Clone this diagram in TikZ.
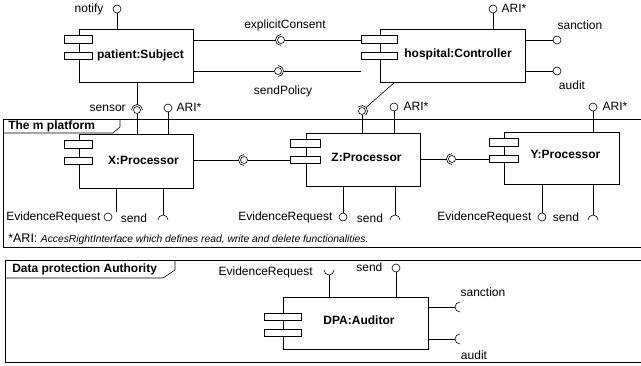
\documentclass[tikz,border=0pt]{standalone}
\usepackage{fontspec}
\setmainfont{Liberation Sans}
\tikzset{
  comp/.style={draw, rectangle, inner sep=0pt},
  icon/.style={draw, rectangle, fill=white, inner sep=0pt, minimum height=7.5pt},
  ball/.style={draw, circle, fill=white, inner sep=0pt, minimum size=8pt},
  lbl/.style={inner sep=0pt, font=\fontsize{12}{14}\selectfont, text height=8.5pt, text depth=2.5pt},
  ttl/.style={inner sep=0pt, font=\fontsize{12}{14}\selectfont\bfseries, text height=8.5pt, text depth=2.5pt},
  frm/.style={line width=1pt}
}
\begin{document}
\begin{tikzpicture}[x=1pt, y=-1pt, line width=0.6pt]
     \useasboundingbox (0,0) rectangle (641,365);

     \draw[frm] (645,119) -- (3,119) -- (3,247) -- (645,247);
     \draw (3,133) -- (113,133) -- (120,127) -- (120,119);
     \node[ttl, anchor=west] (mtag) at (8,126) {The m platform};
     \draw[frm] (645,260) -- (5,260) -- (5,362) -- (645,362);
     \draw (5,278) -- (163,278) -- (175,270) -- (175,260);
     \node[ttl, anchor=west] (dpatag) at (12,269) {Data protection Authority};

     \node[comp, minimum width=114pt, minimum height=53pt] (patient)  at (136,55.5)  {};
     \node[comp, minimum width=145pt, minimum height=53pt] (hospital) at (452.5,55.5) {};
     \node[comp, minimum width=114pt, minimum height=54pt] (X)        at (136,161)   {};
     \node[comp, minimum width=114pt, minimum height=53pt] (Z)        at (363,159.5) {};
     \node[comp, minimum width=115pt, minimum height=52pt] (Y)        at (561.5,158) {};
     \node[comp, minimum width=145pt, minimum height=52pt] (dpa)      at (355.5,323) {};

     \node[ttl] (patientlbl)  at ([xshift=4.5pt]patient.center)             {patient:Subject};
     \node[ttl] (hospitallbl) at ([xshift=5.5pt, yshift=1.5pt]hospital.center) {hospital:Controller};
     \node[ttl] (Xlbl)        at ([xshift=7.5pt]X.center)                   {X:Processor};
     \node[ttl] (Zlbl)        at ([xshift=3.5pt, yshift=1.5pt]Z.center)     {Z:Processor};
     \node[ttl] (Ylbl)        at ([xshift=4pt, yshift=3pt]Y.center)         {Y:Processor};
     \node[ttl] (dpalbl)      at ([xshift=3.5pt, yshift=2pt]dpa.center)     {DPA:Auditor};

     \node[icon, minimum width=28pt] (patient1)  at ([yshift=-10.5pt]patient.north west)  {};
     \node[icon, minimum width=28pt] (patient2)  at ([yshift=-27pt]patient.north west)    {};
     \node[icon, minimum width=36pt] (hospital1) at ([yshift=-10.5pt]hospital.north west) {};
     \node[icon, minimum width=36pt] (hospital2) at ([yshift=-27pt]hospital.north west)   {};
     \node[icon, minimum width=28pt] (X1)        at ([yshift=-10.5pt]X.north west)        {};
     \node[icon, minimum width=28pt] (X2)        at ([yshift=-27pt]X.north west)          {};
     \node[icon, minimum width=30pt] (Z1)        at ([yshift=-10.5pt]Z.north west)        {};
     \node[icon, minimum width=30pt] (Z2)        at ([yshift=-27pt]Z.north west)          {};
     \node[icon, minimum width=29pt] (Y1)        at ([yshift=-10.5pt]Y.north west)        {};
     \node[icon, minimum width=29pt] (Y2)        at ([yshift=-27pt]Y.north west)          {};
     \node[icon, minimum width=37pt] (dpa1)      at ([yshift=-20pt]dpa.north west)        {};
     \node[icon, minimum width=37pt] (dpa2)      at ([yshift=-36pt]dpa.north west)        {};

     \coordinate (ecC) at (281,40);
     \draw (patient.east |- ecC) -- ([xshift=-5.5pt]ecC);
     \draw ([yshift=5.5pt]ecC) arc[start angle=90, end angle=270, radius=5.5pt];
     \node[ball, minimum size=7pt] (ec) at (ecC) {};
     \draw (ec) -- (hospital1.west |- ec);
     \node[lbl] (eclbl) at (285,25) {explicitConsent};

     \coordinate (spC) at (278,71);
     \node[ball, minimum size=7pt] (sp) at (spC) {};
     \draw (patient.east |- sp) -- (sp);
     \draw ([yshift=5.5pt]spC) arc[start angle=90, end angle=-90, radius=5.5pt];
     \draw ([xshift=5.5pt]spC) -- (hospital2.west |- spC);
     \node[lbl] (splbl) at (283,91) {sendPolicy};

     \node[ball] (notify) at (117,9) {};
     \draw (patient.north -| notify) -- (notify);
     \node[lbl, anchor=east] (notifylbl) at ([xshift=-9pt]notify.west) {notify};

     \node[ball] (hari) at (493,9) {};
     \draw (hospital.north -| hari) -- (hari);
     \node[lbl, anchor=west] (harilbl) at ([xshift=4pt]hari.east) {ARI*};

     \node[ball] (sanction) at (557,40) {};
     \draw (hospital.east |- sanction) -- (sanction);
     \node[lbl] (sanctionlbl) at (580,26) {sanction};
     \node[ball] (audit) at (557,71) {};
     \draw (hospital.east |- audit) -- (audit);
     \node[lbl] (auditlbl) at (572,86) {audit};

     \coordinate (snC) at (137,110);
     \draw (patient.south -| snC) -- ([yshift=5.5pt]snC);
     \draw ([xshift=-5.5pt]snC) arc[start angle=180, end angle=0, radius=5.5pt];
     \node[ball, minimum size=7pt] (sn) at (snC) {};
     \draw (sn) -- (X.north -| sn);
     \node[lbl, anchor=east] (snlbl) at (126,108) {sensor};

     \node[ball] (xari) at (168,108) {};
     \draw (X.north -| xari) -- (xari);
     \node[lbl, anchor=west] (xarilbl) at ([xshift=4pt]xari.east) {ARI*};

     \coordinate (hzC) at (362,111);
     \draw ([xshift=15pt]hospital.south west) -- ([shift={(41:5.5pt)}]hzC);
     \draw ([shift={(131:5.5pt)}]hzC) arc[start angle=131, end angle=-49, radius=5.5pt];
     \node[ball, minimum size=7pt] (hz) at (hzC) {};
     \draw (hz) -- (Z.north -| hz);

     \node[ball] (zari) at (394,107) {};
     \draw (Z.north -| zari) -- (zari);
     \node[lbl, anchor=west] (zarilbl) at ([xshift=5pt]zari.east) {ARI*};
     \node[ball] (yari) at (593,107) {};
     \draw (Y.north -| yari) -- (yari);
     \node[lbl, anchor=west] (yarilbl) at ([xshift=5pt]yari.east) {ARI*};

     \coordinate (xzC) at (244,160);
     \draw (X.east |- xzC) -- ([xshift=-5.5pt]xzC);
     \draw ([yshift=5.5pt]xzC) arc[start angle=90, end angle=270, radius=5.5pt];
     \node[ball, minimum size=7pt] (xz) at (xzC) {};
     \draw (xz) -- (Z2.west |- xz);
     \coordinate (zyC) at (452,159);
     \draw (Z.east |- zyC) -- ([xshift=-5.5pt]zyC);
     \draw ([yshift=5.5pt]zyC) arc[start angle=90, end angle=270, radius=5.5pt];
     \node[ball, minimum size=7pt] (zy) at (zyC) {};
     \draw (zy) -- (Y2.west |- zy);

     \coordinate (xerS) at (116,212);
     \draw (X.south -| xerS) -- (xerS);
     \node[ball] (xer) at (108,217) {};
     \node[lbl, anchor=east] (xerlbl) at ([xshift=-3pt]xer.west) {EvidenceRequest};
     \coordinate (xsC) at (163,220);
     \draw (X.south -| xsC) -- ([yshift=5pt]xsC);
     \draw ([xshift=-5pt]xsC) arc[start angle=180, end angle=0, radius=5pt];
     \node[lbl] (xslbl) at (134,219) {send};

     \node[ball] (zer) at (343,217) {};
     \draw (Z.south -| zer) -- (zer);
     \node[lbl, anchor=east] (zerlbl) at ([xshift=-6pt]zer.west) {EvidenceRequest};
     \coordinate (zsC) at (395,220);
     \draw (Z.south -| zsC) -- ([yshift=5pt]zsC);
     \draw ([xshift=-5pt]zsC) arc[start angle=180, end angle=0, radius=5pt];
     \node[lbl] (zslbl) at (370,219) {send};

     \node[ball] (yer) at (542,217) {};
     \draw (Y.south -| yer) -- (yer);
     \node[lbl, anchor=east] (yerlbl) at ([xshift=-6pt]yer.west) {EvidenceRequest};
     \coordinate (ysC) at (593,220);
     \draw (Y.south -| ysC) -- ([yshift=5pt]ysC);
     \draw ([xshift=-5pt]ysC) arc[start angle=180, end angle=0, radius=5pt];
     \node[lbl] (yslbl) at (566,218) {send};

     \node[anchor=base west, inner sep=0pt, font=\fontsize{12.5}{14}\selectfont] (fnote) at (8,242)
          {*ARI: {\fontsize{10.3}{12}\selectfont\itshape AccesRightInterface which defines read, write and delete functionalities.}};

     \coordinate (deC) at (329,270);
     \draw (dpa.north -| deC) -- ([yshift=-5pt]deC);
     \draw ([xshift=-5pt]deC) arc[start angle=180, end angle=360, radius=5pt];
     \node[lbl, anchor=east] (delbl) at (313,272) {EvidenceRequest};
     \node[ball] (dsend) at (396,268) {};
     \draw (dpa.north -| dsend) -- (dsend);
     \node[lbl, anchor=east] (dsendlbl) at ([xshift=-9pt]dsend.west) {send};

     \coordinate (dsaC) at (460,307);
     \draw (dpa.east |- dsaC) -- ([xshift=-5pt]dsaC);
     \draw ([yshift=5pt]dsaC) arc[start angle=90, end angle=270, radius=5pt];
     \node[lbl] (dsalbl) at (483,293) {sanction};
     \coordinate (dauC) at (460,339);
     \draw (dpa.east |- dauC) -- ([xshift=-5pt]dauC);
     \draw ([yshift=5pt]dauC) arc[start angle=90, end angle=270, radius=5pt];
     \node[lbl] (daulbl) at (474,356) {audit};
\end{tikzpicture}
\end{document}
